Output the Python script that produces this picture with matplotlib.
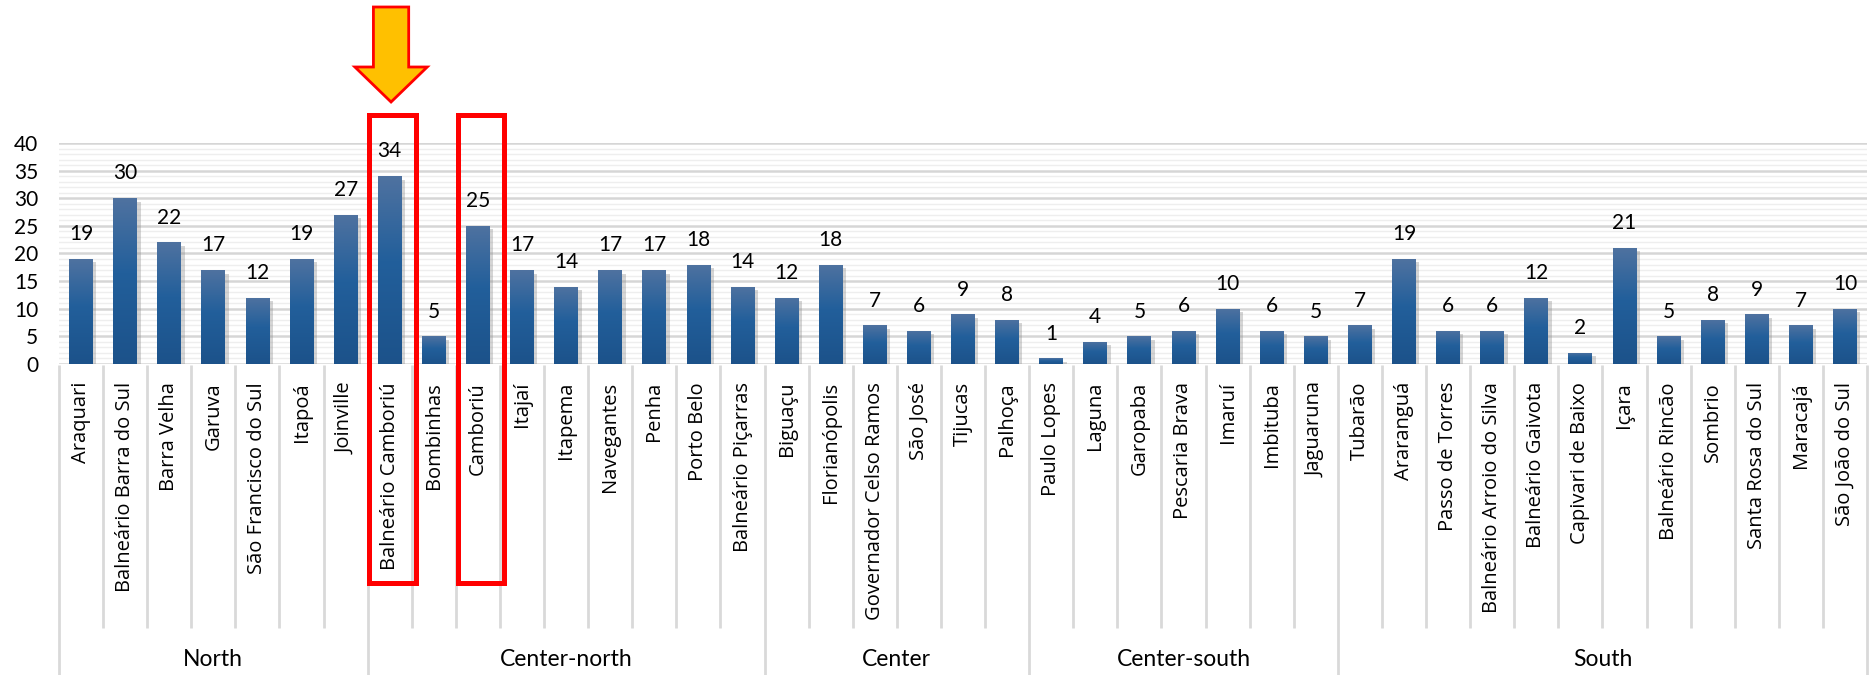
import numpy as np
import matplotlib
matplotlib.use("Agg")
from matplotlib import pyplot as plt
from matplotlib.patches import Rectangle, Polygon
from matplotlib.colors import LinearSegmentedColormap
from matplotlib.transforms import blended_transform_factory
from matplotlib import patheffects as pe

cities = [
	"Araquari", "Balneário Barra do Sul", "Barra Velha", "Garuva", "São Francisco do Sul",
	"Itapoá", "Joinville",
	"Balneário Camboriú", "Bombinhas", "Camboriú", "Itajaí", "Itapema", "Navegantes",
	"Penha", "Porto Belo", "Balneário Piçarras",
	"Biguaçu", "Florianópolis", "Governador Celso Ramos", "São José", "Tijucas", "Palhoça",
	"Paulo Lopes", "Laguna", "Garopaba", "Pescaria Brava", "Imaruí", "Imbituba", "Jaguaruna",
	"Tubarão", "Araranguá", "Passo de Torres", "Balneário Arroio do Silva", "Balneário Gaivota",
	"Capivari de Baixo", "Içara", "Balneário Rincão", "Sombrio", "Santa Rosa do Sul",
	"Maracajá", "São João do Sul",
]
counts = [
	19, 30, 22, 17, 12, 19, 27,
	34, 5, 25, 17, 14, 17, 17, 18, 14,
	12, 18, 7, 6, 9, 8,
	1, 4, 5, 6, 10, 6, 5,
	7, 19, 6, 6, 12, 2, 21, 5, 8, 9, 7, 10,
]
regions = ["North", "Center-north", "Center", "Center-south", "South"]
region_sizes = [7, 9, 6, 7, 12]
highlight = ["Balneário Camboriú", "Camboriú"]

plt.rcParams['font.family'] = ['Lato', 'DejaVu Sans']

W, H = 1870, 675
fig = plt.figure(figsize=(W / 100, H / 100), dpi=100)
ax = fig.add_axes([59 / W, 1 - 364 / H, 1808 / W, 221 / H])
trans = blended_transform_factory(ax.transData, fig.transFigure)

def fy(px):
	# figure fraction from a pixel row counted from the top
	return 1 - px / H

x = np.arange(len(cities))

# grid
ax.set_yticks(range(0, 41, 5))
ax.set_yticks(range(0, 41, 1), minor=True)
ax.grid(which='major', axis='y', color='#d6d6d6', lw=1.8)
ax.grid(which='minor', axis='y', color='#eeeeee', lw=1.0)
ax.set_axisbelow(True)
for s in ax.spines.values():
	s.set_visible(False)
ax.tick_params(axis='y', which='both', length=0, pad=15, labelsize=15)
ax.set_xticks([])

# bars with a vertical gradient
shadow = [pe.SimplePatchShadow(offset=(2.5, -2.5), shadow_rgbFace='#888888', alpha=0.35), pe.Normal()]
bars = ax.bar(x, counts, width=0.54, color='#215e9a', zorder=3, path_effects=shadow)
cmap = LinearSegmentedColormap.from_list('bar', [(0, '#1c528a'), (0.55, '#225f9b'), (1, '#4f72a0')])
grad = np.linspace(0, 1, 256).reshape(-1, 1)
for b in bars:
	im = ax.imshow(grad, extent=[b.get_x(), b.get_x() + b.get_width(), 0, b.get_height()],
		origin='lower', aspect='auto', cmap=cmap, zorder=3.5)
	im.set_clip_path(b)

for xi, v in zip(x, counts):
	ax.annotate(str(v), (xi, v), xytext=(0, 13.5), textcoords='offset points',
		ha='center', va='baseline', fontsize=15)

ax.set_xlim(-0.5, len(cities) - 0.5)
ax.set_ylim(0, 40)

# category labels
for xi, name in zip(x, cities):
	ax.text(xi, fy(382), name, transform=trans, rotation=90, ha='center', va='top',
		fontsize=14.5, family=['Open Sans', 'DejaVu Sans'])

# separators and region labels
edges = np.cumsum([0] + region_sizes) - 0.5
for bnd in np.arange(len(cities) + 1) - 0.5:
	bottom = 675 if bnd in edges else 628
	ax.plot([bnd, bnd], [fy(365), fy(bottom)], transform=trans, color='#d9d9d9',
		lw=2, clip_on=False, solid_capstyle='butt')
for i, reg in enumerate(regions):
	ax.text((edges[i] + edges[i + 1]) / 2, fy(660), reg, transform=trans,
		ha='center', va='center', fontsize=16.5)

# highlight boxes
for name in highlight:
	i = cities.index(name)
	ax.add_patch(Rectangle((i - 0.46, fy(582.5)), 1.05, (582.5 - 114.5) / H, transform=trans,
		fill=False, ec='#ff0000', lw=3.6, clip_on=False, zorder=6))

# arrow above the first highlighted city
c = cities.index(highlight[0]) + 0.03
pts = [(c - 0.4, fy(7)), (c + 0.4, fy(7)), (c + 0.4, fy(67)), (c + 0.82, fy(67)),
	(c, fy(102)), (c - 0.82, fy(67)), (c - 0.4, fy(67))]
ax.add_patch(Polygon(pts, closed=True, transform=trans, fc='#ffc000', ec='#ff0000',
	lw=2, clip_on=False, zorder=6))

fig.savefig('out.png', dpi=100)
